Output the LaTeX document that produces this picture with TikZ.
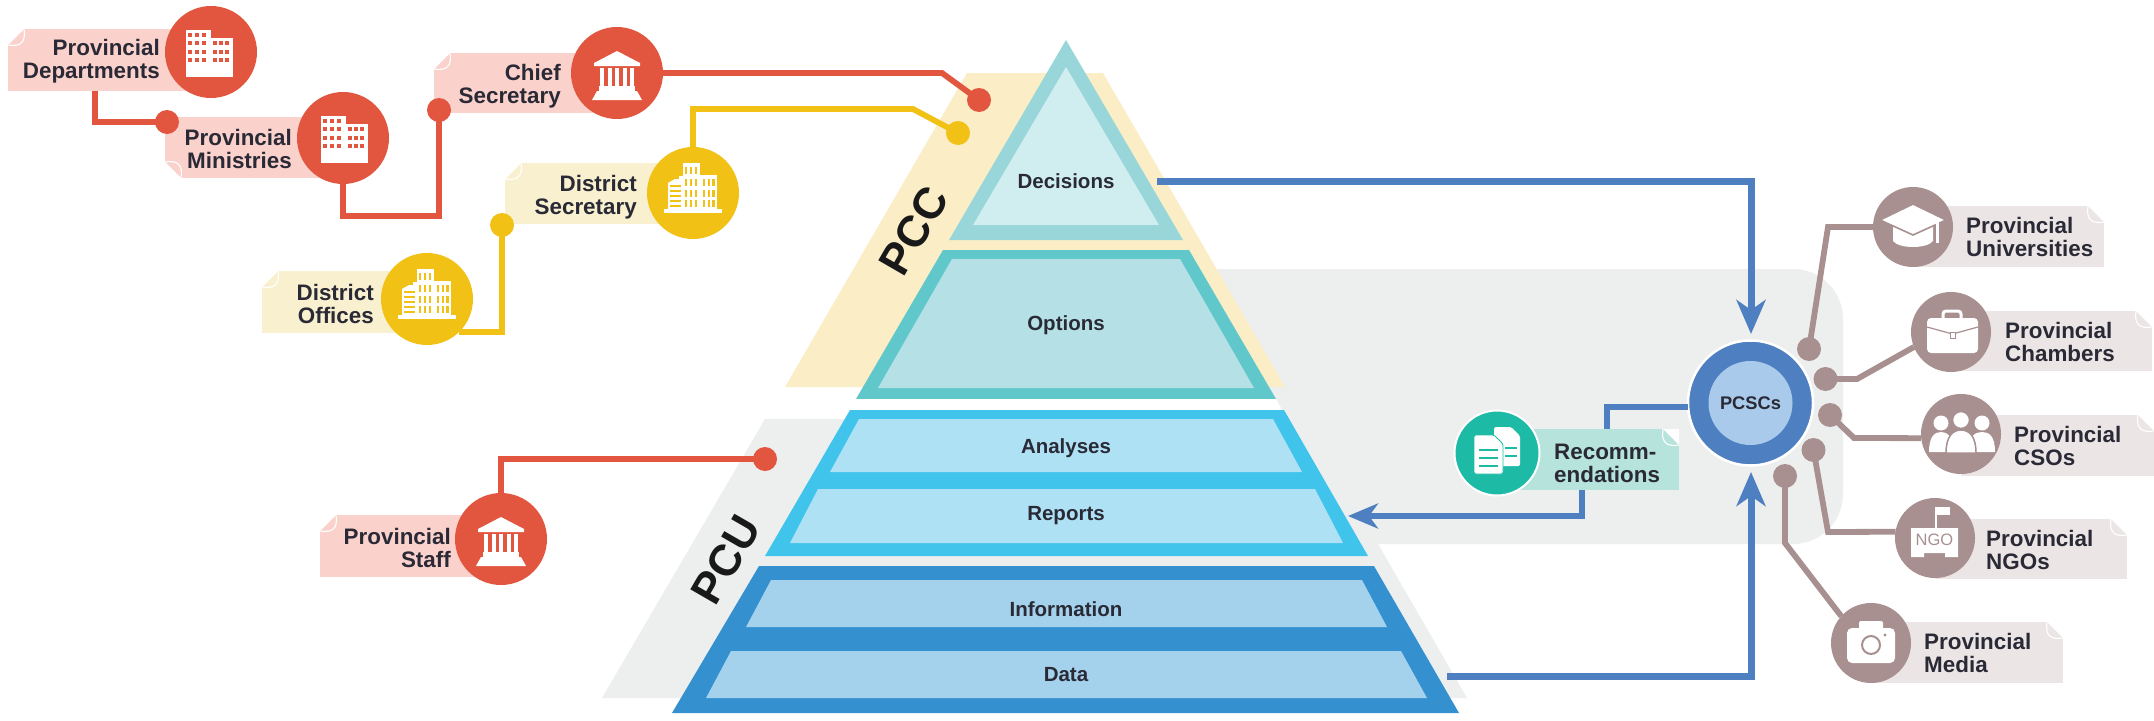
\documentclass[tikz,border=0pt]{standalone}
\usepackage{fontspec}
\setmainfont{Liberation Sans}
\usetikzlibrary{arrows.meta}
\definecolor{cred}{HTML}{E25640}
\definecolor{cpink}{HTML}{FBD1CC}
\definecolor{cyel}{HTML}{F1C116}
\definecolor{cyellbl}{HTML}{F8F0CF}
\definecolor{cpcc}{HTML}{FBEEC6}
\definecolor{cgray}{HTML}{EDEFEE}
\definecolor{ctriB}{HTML}{98D6DA}
\definecolor{ctriF}{HTML}{D0EDF0}
\definecolor{coptB}{HTML}{60C7CB}
\definecolor{coptF}{HTML}{B5E1E6}
\definecolor{clbB}{HTML}{41C4EC}
\definecolor{clbF}{HTML}{AFE1F5}
\definecolor{cdbB}{HTML}{3490CF}
\definecolor{cdbF}{HTML}{A4D1EC}
\definecolor{cblue}{HTML}{4E7FC0}
\definecolor{cblueF}{HTML}{A9CAEA}
\definecolor{cbrown}{HTML}{A89090}
\definecolor{cbrownL}{HTML}{ECE5E5}
\definecolor{cteal}{HTML}{1DBBA6}
\definecolor{ctealL}{HTML}{B6E3DC}
\definecolor{ctext}{HTML}{2A2A36}
\newcommand\lblbox[6]{\node[fill=#2,inner sep=0pt,outer sep=0pt,minimum width={#5-#3},minimum height={#6-#4}] (#1) at ({(#3+#5)/2},{(#4+#6)/2}) {};}
\newcommand\foldc[4]{%
  \fill[white] (#1,#2) -- ({#1+#3*16},#2) -- (#1,{#2+#4*16}) -- cycle;
  \draw[white,line width=1.1pt] ({#1+#3*16},#2) .. controls ({#1+#3*18},{#2+#4*13}) and ({#1+#3*13},{#2+#4*18}) .. (#1,{#2+#4*16});}
\tikzset{
  x=1pt,y=-1pt,
  lbltext/.style={inner sep=0pt,text=ctext,text depth=0pt,font=\fontsize{22.4}{23}\selectfont\bfseries},
  lvltext/.style={inner sep=0pt,text=ctext,text height=15pt,text depth=0pt,font=\fontsize{20.5}{23}\selectfont\bfseries},
  bigtext/.style={inner sep=0pt,text=black!90,rotate=60,font=\fontsize{44}{44}\selectfont\bfseries},
  cir/.style={circle,inner sep=0pt,outer sep=0pt,minimum size=92pt,fill=#1},
  cirs/.style={circle,inner sep=0pt,outer sep=0pt,minimum size=80pt,fill=cbrown},
  dotn/.style={circle,inner sep=0pt,outer sep=0pt,minimum size=24pt,fill=#1},
  conn/.style={draw=#1,line width=5.8pt},
  flow/.style={draw=cblue,line width=7pt,-{Stealth[length=34pt,width=29pt,inset=10pt]}},
  flowb/.style={draw=cblue,line width=5.6pt},
  flowc/.style={draw=cblue,line width=5.6pt,-{Stealth[length=30pt,width=25pt,inset=9pt]}},
  pics/officeA/.style={code={
    \fill[white] (-25,-22) rectangle (0,25);
    \fill[white] (0,-14) rectangle (22,25);
    \foreach \xx in {-21,-14,-7}{\foreach \yy in {-17,-9,0,8}{\fill[cred] (\xx-2,\yy-2) rectangle (\xx+2,\yy+2);}}
    \foreach \xx in {4,10,16}{\foreach \yy in {-9,0,8}{\fill[cred] (\xx-2,\yy-2) rectangle (\xx+2,\yy+2);}}
  }},
  pics/temple/.style={code={
    \fill[white] (0,-22) -- (23,-10) -- (23,-7) -- (-23,-7) -- (-23,-10) -- cycle;
    \foreach \xx in {-15,-7.5,0,7.5,15}{\fill[white] (\xx-2,-5) rectangle (\xx+2,13);}
    \fill[white] (-18,13) rectangle (18,18);
    \fill[white] (-20,18) -- (20,18) -- (25,27) -- (-25,27) -- cycle;
  }},
  pics/officeB/.style={code={
    \fill[white] (-10,-30) rectangle (7,16);
    \fill[white] (7,-18) rectangle (24,16);
    \fill[white] (-25,-10) -- (-18,-14) -- (-14,-14) -- (-14,-17) -- (-10,-17) -- (-10,16) -- (-25,16) -- cycle;
    \fill[white] (-29,16) rectangle (29,19.5);
    \foreach \yy in {-26,-14,-3,7}{\foreach \xx in {-7,-2,3}{\fill[cyel] (\xx-1.2,\yy) rectangle (\xx+1.2,\yy+6.5);}}
    \foreach \yy in {-14,-3,7}{\foreach \xx in {11,16,20.5}{\fill[cyel] (\xx-1.2,\yy) rectangle (\xx+1.2,\yy+6.5);}}
    \foreach \yy in {-8,-3,2,7,12}{\fill[cyel] (-23,\yy) rectangle (-12,\yy+2);}
  }},
  pics/gradcap/.style={code={
    \fill[white] (-20,0) -- (-20,14) .. controls (-14,22) and (14,22) .. (20,14) -- (20,0) -- cycle;
    \fill[white,draw=cbrown,line width=1.6pt] (0,-23) -- (33,-7) -- (0,8) -- (-33,-7) -- cycle;
    \draw[white,line width=3pt] (24,-5) -- (24,16);
  }},
  pics/briefcase/.style={code={
    \draw[white,line width=3pt,rounded corners=3pt] (-8,-14) -- (-8,-21) -- (10,-21) -- (10,-14);
    \fill[white,rounded corners=4pt] (-24,-14) rectangle (27,21);
    \draw[cbrown,line width=1.2pt] (-24,-5) -- (1.5,2) -- (27,-5);
    \fill[white,draw=cbrown,line width=.8pt] (-1,0) rectangle (4,6);
  }},
  pics/people/.style={code={
    \fill[white] (-20,-11) circle (7.5);
    \fill[white] (21,-11) circle (7.5);
    \fill[white] (-32,18) .. controls (-32,2) and (-26,-2) .. (-20,-2) .. controls (-14,-2) and (-8,2) .. (-8,18) -- cycle;
    \fill[white] (8,18) .. controls (8,2) and (14,-2) .. (21,-2) .. controls (28,-2) and (34,2) .. (34,18) -- cycle;
    \fill[white,draw=cbrown,line width=1.5pt] (0,-14) circle (8.5);
    \fill[white,draw=cbrown,line width=1.5pt] (-15,19) .. controls (-15,2) and (-8,-4) .. (0,-4) .. controls (8,-4) and (15,2) .. (15,19) -- cycle;
  }},
  pics/camera/.style={code={
    \fill[white,rounded corners=5pt] (-24,-15) rectangle (24,20);
    \fill[white,rounded corners=2pt] (-12,-22) rectangle (12,-10);
    \draw[cbrown,line width=2pt] (0,2) circle (9);
    \fill[cbrown] (14,-8) circle (1.6);
  }},
  pics/docs/.style={code={
    \fill[white,rounded corners=1.5pt] (-3,-26) -- (14,-26) -- (23,-17) -- (23,13) -- (-3,13) -- cycle;
    \draw[cteal,line width=1.3pt] (8,-5) -- (20,-5) (8,3) -- (20,3);
    \fill[white,rounded corners=1.5pt,draw=cteal,line width=.9pt] (-23,-18) -- (-3,-18) -- (6,-9) -- (6,21) -- (-23,21) -- cycle;
    \draw[cteal,line width=1.3pt] (-18,-3) -- (1,-3) (-18,5) -- (1,5) (-18,13) -- (1,13);
  }},
}
\begin{document}
\begin{tikzpicture}[x=1pt,y=-1pt]
\useasboundingbox (0,0) rectangle (2154,720);
\fill[white] (0,0) rectangle (2154,720);
% grey backdrop
\fill[cgray] (765,419) -- (1000,419) -- (1000,269) [rounded corners=50pt] -- (1843,269) -- (1843,544) [sharp corners] -- (1378,544) -- (1467,698) -- (602,698) -- cycle;
% PCC backdrop
\fill[cpcc] (967,73) -- (1103,73) -- (1285,387) -- (785,387) -- cycle;
% pyramid
\fill[ctriB] (1066,40) -- (1183,240) -- (949,240) -- cycle;
\fill[ctriF] (1066,67) -- (1159,225) -- (973,225) -- cycle;
\fill[coptB] (943,250) -- (1189,250) -- (1276,399) -- (856,399) -- cycle;
\fill[coptF] (952,259) -- (1180,259) -- (1254,388) -- (878,388) -- cycle;
\fill[white] (850,399) -- (1276,399) -- (1282,410) -- (850,410) -- cycle;
\fill[clbB] (850,410) -- (1284,410) -- (1368,556) -- (765,556) -- cycle;
\fill[clbF] (859,419) -- (1273,419) -- (1302,472) -- (830,472) -- cycle;
\fill[clbF] (818,489) -- (1315,489) -- (1343,543) -- (790,543) -- cycle;
\fill[cdbB] (759,566) -- (1374,566) -- (1459,713) -- (672,713) -- cycle;
\fill[cdbF] (771,580) -- (1362,580) -- (1387,627) -- (746,627) -- cycle;
\fill[cdbF] (731,651) -- (1401,651) -- (1427,698) -- (706,698) -- cycle;
\node[lvltext] (tDec) at (1066,181) {Decisions};
\node[lvltext] (tOpt) at (1066,323) {Options};
\node[lvltext] (tAna) at (1066,446) {Analyses};
\node[lvltext] (tRep) at (1066,513) {Reports};
\node[lvltext] (tInf) at (1066,609) {Information};
\node[lvltext] (tDat) at (1066,674) {Data};
\node[bigtext] (tPCC) at (914,231) {PCC};
\node[bigtext] (tPCU) at (726,560) {PCU};
% label boxes, left
\lblbox{lDep}{cpink}{8}{29}{211}{91}
\foldc{8}{29}{1}{1}
\lblbox{lMin}{cpink}{165}{117}{343}{178}
\foldc{165}{178}{1}{-1}
\lblbox{lChi}{cpink}{434}{53}{617}{113}
\foldc{434}{53}{1}{1}
\lblbox{lSec}{cyellbl}{505}{163}{693}{224}
\foldc{505}{163}{1}{1}
\lblbox{lOff}{cyellbl}{262}{271}{427}{333}
\foldc{262}{271}{1}{1}
\lblbox{lSta}{cpink}{320}{515}{501}{577}
\foldc{320}{515}{1}{1}
% label boxes, right
\lblbox{lRec}{ctealL}{1497}{429}{1679}{490}
\foldc{1679}{429}{-1}{1}
\lblbox{lUni}{cbrownL}{1913}{206}{2104}{267}
\foldc{2104}{206}{-1}{1}
\lblbox{lCha}{cbrownL}{1951}{311}{2152}{371}
\foldc{2152}{311}{-1}{1}
\lblbox{lCso}{cbrownL}{1961}{415}{2154}{476}
\foldc{2154}{415}{-1}{1}
\lblbox{lNgo}{cbrownL}{1935}{519}{2127}{579}
\foldc{2127}{519}{-1}{1}
\lblbox{lMed}{cbrownL}{1871}{622}{2063}{683}
\foldc{2063}{622}{-1}{1}
% circles
\node[cir=cred] (cDep) at (211,52) {};
\node[cir=cred] (cMin) at (343,138) {};
\node[cir=cred] (cChi) at (617,73) {};
\node[cir=cyel] (cSec) at (693,193) {};
\node[cir=cyel] (cOff) at (427,299) {};
\node[cir=cred] (cSta) at (501,539) {};
\node[cirs] (cUni) at (1913,227) {};
\node[cirs] (cCha) at (1951,332) {};
\node[cirs] (cCso) at (1961,434) {};
\node[cirs] (cNgo) at (1935,538) {};
\node[cirs] (cMed) at (1871,643) {};
\node[circle,inner sep=0pt,minimum size=85pt,fill=cteal,draw=white,line width=2pt] (cRec) at (1497,453) {};
\node[circle,inner sep=0pt,minimum size=125pt,fill=cblue,draw=white,line width=2.5pt] (cPcs) at (1750.5,403) {};
\node[circle,inner sep=0pt,minimum size=84pt,fill=cblueF,text=ctext,font=\fontsize{18.3}{20}\selectfont\bfseries] (cPcsIn) at (1750.5,403) {PCSCs};
% dots
\node[dotn=cred] (dMin) at (167,122) {};
\node[dotn=cred] (dChi) at (439,110) {};
\node[dotn=cred] (dPcc) at (979,100) {};
\node[dotn=cyel] (dSec) at (502,225) {};
\node[dotn=cyel] (dYel) at (958,133) {};
\node[dotn=cred] (dSta) at (765,459) {};
\node[dotn=cbrown] (dUni) at (1809,349) {};
\node[dotn=cbrown] (dCha) at (1825.5,379) {};
\node[dotn=cbrown] (dCso) at (1830,415) {};
\node[dotn=cbrown] (dNgo) at (1813.5,450) {};
\node[dotn=cbrown] (dMed) at (1785,476) {};
% connector way-points
\coordinate (pDepOut) at (95,91);
\coordinate (pMinTurn) at (400,216);
\coordinate (pChiKink) at (942,73);
\coordinate (pSecKink) at (913,109);
\coordinate (pUniK) at (1828,227);
\coordinate (pChaK) at (1857,379);
\coordinate (pCsoK) at (1854,438);
\coordinate (pNgoK) at (1828,532);
\coordinate (pMedK) at (1785,543);
\coordinate (pDecOut) at (1157,181);
\coordinate (pDecTurn) at (1751,181);
\coordinate (pDecTip) at (1751,334);
\coordinate (pDatOut) at (1447,676);
\coordinate (pDatTurn) at (1751,676);
\coordinate (pDatTip) at (1751,472);
\coordinate (pPcsOut) at (1688,407);
\coordinate (pRecIn) at (1607,429);
\coordinate (pRecOut) at (1582,490);
\coordinate (pRecTurn) at (1582,516);
\coordinate (pRepTip) at (1348,516);
% connectors
\draw[conn=cred] (pDepOut) |- (dMin.center);
\draw[conn=cred] (cMin.south) |- (pMinTurn) -| (dChi.center);
\draw[conn=cred] (cChi.east) -- (pChiKink) -- (dPcc.center);
\draw[conn=cyel] (cSec.north) |- (pSecKink) -- (dYel.center);
\draw[conn=cyel] (cOff.-46) -| (dSec.center);
\draw[conn=cred] (cSta.north) |- (dSta.center);
\draw[conn=cbrown] (cUni.west) -- (pUniK) -- (dUni.center);
\draw[conn=cbrown] (cCha.202) -- (pChaK) -- (dCha.center);
\draw[conn=cbrown] (cCso.186) -- (pCsoK) -- (dCso.center);
\draw[conn=cbrown] (cNgo.171) -- (pNgoK) -- (dNgo.center);
\draw[conn=cbrown] (cMed.138) -- (pMedK) -- (dMed.center);
\draw[flow] (pDecOut) -- (pDecTurn) -- (pDecTip);
\draw[flow] (pDatOut) -- (pDatTurn) -- (pDatTip);
\draw[flowb] (pPcsOut) -| (pRecIn);
\draw[flowc] (pRecOut) -- (pRecTurn) -- (pRepTip);
% icons
\pic at (cDep) {officeA};
\pic at ([xshift=3pt]cMin) {officeA};
\pic at (cChi) {temple};
\pic at (cSta) {temple};
\pic at (cSec) {officeB};
\pic at (cOff) {officeB};
\pic at (cUni) {gradcap};
\pic at (cCha) {briefcase};
\pic at (cCso) {people};
\pic at (cMed) {camera};
\pic at (cRec) {docs};
\fill[white] (1935,507) rectangle (1936.8,528);
\fill[white] (1935,507) -- (1950,507) -- (1950,515) -- (1935,515) -- cycle;
\fill[white] (1911,528) -- (1958,528) -- (1958,557) -- (1945,557) -- (1945,553) -- (1924,553) -- (1924,557) -- (1911,557) -- cycle;
\node[inner sep=0pt,text=cbrown,font=\fontsize{16.5}{18}\selectfont] (tNgoIcon) at (1934.5,540) {NGO};
% texts
\node[lbltext,anchor=east,align=right] (tDep) at (160,58.5) {Provincial\\Departments};
\node[lbltext,anchor=east,align=right] (tMin) at (292,148.5) {Provincial\\Ministries};
\node[lbltext,anchor=east,align=right] (tChi) at (561,83.5) {Chief\\Secretary};
\node[lbltext,anchor=east,align=right] (tSec) at (637,194.5) {District\\Secretary};
\node[lbltext,anchor=east,align=right] (tOff) at (374,303.5) {District\\Offices};
\node[lbltext,anchor=east,align=right] (tSta) at (451,547.5) {Provincial\\Staff};
\node[lbltext,anchor=west,align=left] (tRec) at (1554,463) {Recomm-\\endations};
\node[lbltext,anchor=west,align=left] (tUni) at (1966,236.5) {Provincial\\Universities};
\node[lbltext,anchor=west,align=left] (tCha) at (2005,341.5) {Provincial\\Chambers};
\node[lbltext,anchor=west,align=left] (tCso) at (2014,445.5) {Provincial\\CSOs};
\node[lbltext,anchor=west,align=left] (tNgo) at (1986,549.5) {Provincial\\NGOs};
\node[lbltext,anchor=west,align=left] (tMed) at (1924,652.5) {Provincial\\Media};
\end{tikzpicture}
\end{document}
